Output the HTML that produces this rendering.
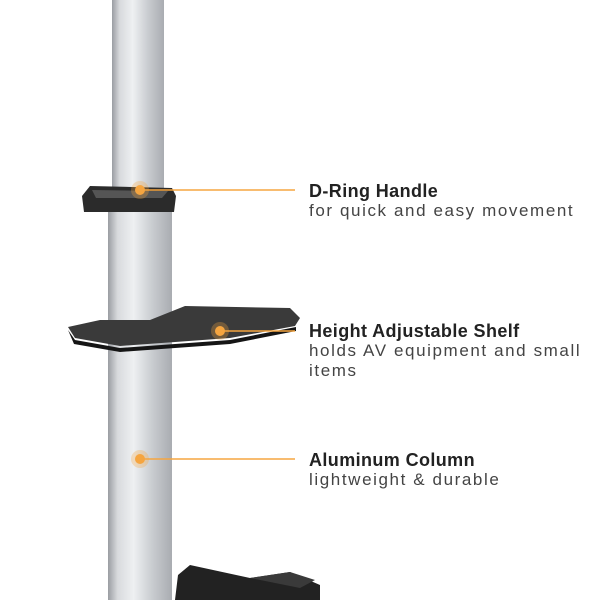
<!DOCTYPE html>
<html><head><style>
body{margin:0;width:600px;height:600px;background:#fff;overflow:hidden;position:relative;font-family:"Liberation Sans",sans-serif}
.t{position:absolute;left:309px;color:#444;font-size:17px;line-height:20px;letter-spacing:1.6px;white-space:nowrap}
.t b{display:block;font-size:18px;color:#222;letter-spacing:0.4px}
</style></head><body>
<svg width="600" height="600" style="position:absolute;left:0;top:0">
<defs>
<linearGradient id="c" x1="0" x2="1">
<stop offset="0" stop-color="#9a9da2"/><stop offset="0.15" stop-color="#d8dadd"/><stop offset="0.4" stop-color="#eef0f2"/><stop offset="0.7" stop-color="#c8cbcf"/><stop offset="1" stop-color="#a9acb1"/>
</linearGradient>
</defs>
<rect x="112" y="0" width="52" height="200" fill="url(#c)"/>
<rect x="108" y="205" width="64" height="395" fill="url(#c)"/>
<path d="M82 196 L90 186 L172 188 L176 196 L174 212 L84 212 Z" fill="#2b2b2b"/>
<path d="M92 190 L168 191 L162 198 L96 198 Z" fill="#555"/>
<path d="M68 327 L100 320 L150 320 L185 306 L290 308 L300 318 L295 326 L230 338 L120 346 L75 338 Z" fill="#3a3a3a"/>
<path d="M68 330 L75 340 L120 348 L230 340 L296 327 L296 331 L230 344 L120 352 L74 344 Z" fill="#151515"/>
<path d="M175 600 L178 575 L190 565 L250 578 L290 572 L320 585 L320 600 Z" fill="#222"/>
<path d="M250 578 L290 572 L315 580 L300 588 Z" fill="#3a3a3a"/>
<g fill="#f5a540">
<circle cx="140" cy="190" r="9" opacity="0.3"/><circle cx="140" cy="190" r="5"/>
<circle cx="220" cy="331" r="9" opacity="0.3"/><circle cx="220" cy="331" r="5"/>
<circle cx="140" cy="459" r="9" opacity="0.3"/><circle cx="140" cy="459" r="5"/>
</g>
<g stroke="#f5a540" stroke-width="1.5">
<line x1="140" y1="190" x2="295" y2="190"/>
<line x1="220" y1="331" x2="295" y2="331"/>
<line x1="140" y1="459" x2="295" y2="459"/>
</g>
</svg>
<div class="t" style="top:181px"><b>D-Ring Handle</b>for quick and easy movement</div>
<div class="t" style="top:321px"><b>Height Adjustable Shelf</b>holds AV equipment and small<br>items</div>
<div class="t" style="top:450px"><b>Aluminum Column</b>lightweight &amp; durable</div>
</body></html>
